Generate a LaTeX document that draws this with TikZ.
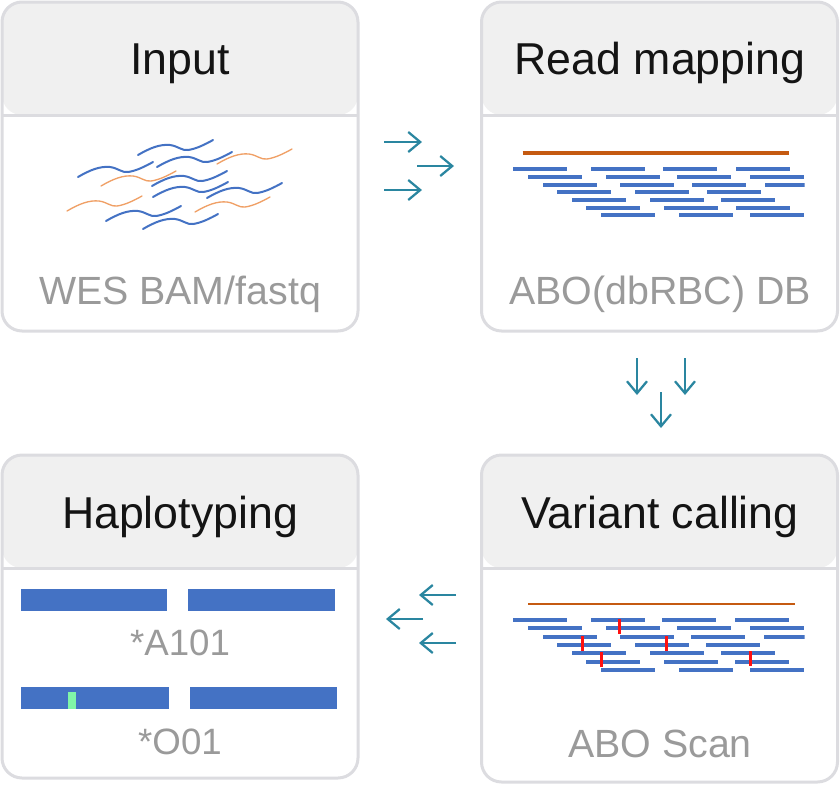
\documentclass[tikz,border=0pt]{standalone}
\usepackage{fontspec}
\setmainfont{Liberation Sans}
\usetikzlibrary{arrows.meta}

\definecolor{boxline}{HTML}{DCDCE0}
\definecolor{headfill}{HTML}{F0F0F0}
\definecolor{readblue}{HTML}{4472C4}
\definecolor{refbrown}{HTML}{C55A11}
\definecolor{waveorange}{HTML}{F0A066}
\definecolor{snpred}{HTML}{FF1010}
\definecolor{snpgreen}{HTML}{80F5A8}
\definecolor{flowteal}{HTML}{2A86A0}
\definecolor{subgray}{HTML}{9A9A9A}

\tikzset{
  stage/.style={
    rectangle,
    draw=boxline,
    line width=2.25pt,
    fill=white,
    rounded corners=15pt,
    inner sep=0pt,
    outer sep=0pt,
    minimum width=267pt,
    path picture={
      \fill[headfill] (path picture bounding box.north west)
        rectangle ([yshift=-84.75pt]path picture bounding box.north east);
      \draw[boxline, line width=2.25pt]
        ([yshift=-84.75pt]path picture bounding box.north west)
        -- ([yshift=-84.75pt]path picture bounding box.north east);
    }},
  stagetitle/.style={anchor=base, inner sep=0pt, text=black!92,
    font=\fontsize{33.5pt}{36pt}\selectfont},
  stagenote/.style={anchor=base, inner sep=0pt, text=subgray,
    font=\fontsize{29.5pt}{32pt}\selectfont},
  allelenote/.style={stagenote, font=\fontsize{27.5pt}{30pt}\selectfont},
  flowarrow/.style={draw=flowteal, line width=1.7pt,
    -{Straight Barb[length=9pt, width=15pt]}},
  wave/.pic={
    \draw[pic actions, line cap=round]
      (0,0) .. controls (12,-7) and (22,-11) .. (32,-10)
      .. controls (40,-9) and (44,-4) .. (50,-5)
      .. controls (58,-6) and (68,-11) .. (75,-15);
  }
}

\begin{document}
\begin{tikzpicture}[x=0.75pt, y=-0.75pt]
  \useasboundingbox (0,0) rectangle (840,786);

  % The four stages
  \node [stage, minimum height=246.75pt] (input) at (180,166.5) {};
  \node [stage, minimum height=246.75pt] (mapping) at (659.5,166.5) {};
  \node [stage, minimum height=245.25pt] (calling) at (659.5,618.5) {};
  \node [stage, minimum height=242.25pt] (haplo) at (180,616.5) {};

  \node [stagetitle] (inputTitle) at (180,74) {Input};
  \node [stagetitle] (mappingTitle) at (660,74) {Read mapping};
  \node [stagetitle] (callingTitle) at (660,528) {Variant calling};
  \node [stagetitle] (haploTitle) at (180,528) {Haplotyping};

  \node [stagenote] (inputNote) at (180,304) {WES BAM/fastq};
  \node [stagenote] (mappingNote) at (660,304) {ABO(dbRBC) DB};
  \node [stagenote] (callingNote) at (660,757) {ABO Scan};

  % Input: raw reads
  \foreach \x/\y in {138/155, 157/167, 78/177, 152/186,
                     153/197, 207/198, 106/221, 143/229}
    \pic [draw=readblue, line width=1.5pt] at (\x,\y) {wave};
  \foreach \x/\y in {217/164, 101/186, 67/211, 195/212}
    \pic [draw=waveorange, line width=1pt] at (\x,\y) {wave};

  % Read mapping: reference and stacked reads
  \draw [refbrown, line width=3pt] (522.7,153) -- (789,153);
  \begin{scope}
    \clip (482,120) rectangle (804.5,240);
    \foreach \x/\n in {513.3/6, 591/6, 662.7/6, 735.7/2}
      \foreach \r in {0,...,\n}
        \fill [readblue] ({\x+14.63*\r},{167.3+7.67*\r}) rectangle +(54,4);
  \end{scope}

  % Variant calling: reads with variant sites
  \draw [refbrown, line width=1.9pt] (528.3,604) -- (795.3,604);
  \begin{scope}
    \clip (482,580) rectangle (804.5,672);
    \foreach \x/\n in {513.3/6, 591/6, 662/6, 735/2}
      \foreach \r in {0,...,\n}
        \fill [readblue] ({\x+14.63*\r},{617.7+8.43*\r}) rectangle +(54,4);
  \end{scope}
  \foreach \x/\y in {619/619.3, 582.7/636, 666.3/635.7, 601/652, 750.3/651.3}
    \fill [snpred] (\x-1.5,\y) rectangle +(3,15);

  % Haplotyping: two alleles
  \fill [readblue] (21,589.3) rectangle (166.7,610.7);
  \fill [readblue] (188.3,589.3) rectangle (335.3,610.7);
  \node [allelenote] (alleleA) at (180,655) {*A101};
  \fill [readblue] (21,687.3) rectangle (168.7,708.7);
  \fill [readblue] (190,687.3) rectangle (337.3,708.7);
  \fill [snpgreen] (68.3,691.7) rectangle (76,708.7);
  \node [allelenote] (alleleO) at (180,754) {*O01};

  % Flow between the stages
  \foreach \n/\xa/\xb/\y in {1/384/422/142, 2/417/454/166, 3/384/422/190} {
    \coordinate (rs\n) at (\xa,\y);
    \coordinate (re\n) at (\xb,\y);
    \draw [flowarrow] (rs\n) -- (re\n);
  }
  \foreach \n/\x/\ya/\yb in {1/637/358/395, 2/685/358/395, 3/661/392/428} {
    \coordinate (ds\n) at (\x,\ya);
    \coordinate (de\n) at (\x,\yb);
    \draw [flowarrow] (ds\n) -- (de\n);
  }
  \foreach \n/\xa/\xb/\y in {1/456/419/595, 2/423/386/619, 3/456/419/643} {
    \coordinate (ls\n) at (\xa,\y);
    \coordinate (le\n) at (\xb,\y);
    \draw [flowarrow] (ls\n) -- (le\n);
  }
\end{tikzpicture}
\end{document}
